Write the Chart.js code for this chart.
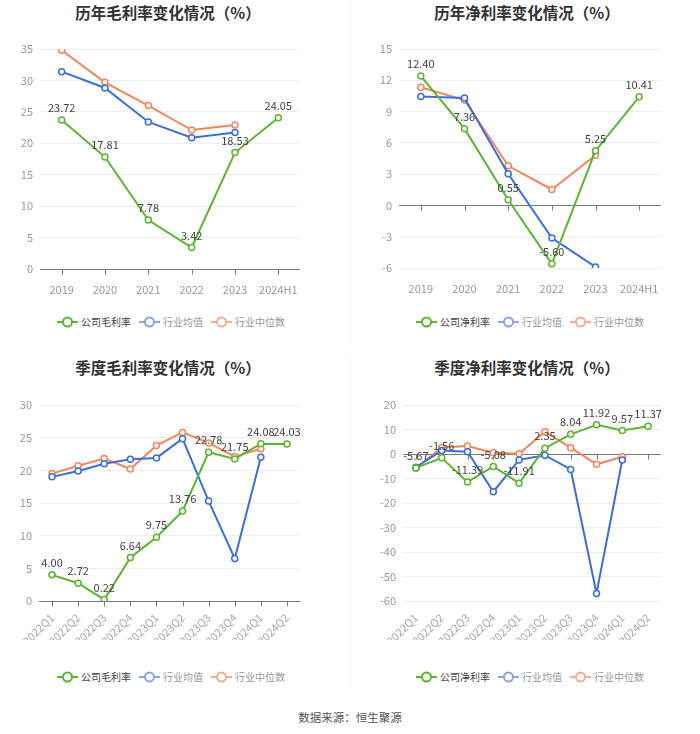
<!DOCTYPE html>
<html>
<head>
<meta charset="utf-8">
<script src="https://cdn.jsdelivr.net/npm/chart.js@4.4.0/dist/chart.umd.min.js"></script>
<style>
  body { margin: 0; background: #fff; font-family: "Noto Sans CJK SC", "Noto Sans", sans-serif; }
  #page { position: relative; width: 700px; height: 734px; overflow: hidden; }
  .title { position: absolute; width: 350px; text-align: center; font-size: 15.5px; font-weight: bold; color: #333; line-height: 20px; }
  .box { position: absolute; }
  .legend { position: absolute; width: 350px; display: flex; justify-content: center; align-items: center; font-size: 10px; line-height: 14px; }
  .legend .item { display: flex; align-items: center; margin: 0 4px; }
  .legend svg { margin-right: 3px; }
  .divider { position: absolute; left: 350px; width: 1px; background: #f2f2f2; }
  #source { position: absolute; top: 709px; width: 700px; text-align: center; font-size: 11.5px; color: #555; }
</style>
</head>
<body>
<div id="page">
  <div class="divider" style="top:0;height:340px"></div>
  <div class="divider" style="top:355px;height:335px"></div>

  <div class="title" style="left:-7px;top:2px">历年毛利率变化情况（%）</div>
  <div class="title" style="left:352px;top:2px">历年净利率变化情况（%）</div>
  <div class="title" style="left:-7px;top:357px">季度毛利率变化情况（%）</div>
  <div class="title" style="left:352px;top:357px">季度净利率变化情况（%）</div>

  <div class="box" style="left:0;top:30px"><canvas id="c1" width="350" height="270"></canvas></div>
  <div class="box" style="left:350px;top:30px"><canvas id="c2" width="350" height="270"></canvas></div>
  <div class="box" style="left:0;top:380px"><canvas id="c3" width="350" height="260"></canvas></div>
  <div class="box" style="left:350px;top:380px"><canvas id="c4" width="350" height="260"></canvas></div>

  <div class="legend" id="lg1" style="left:-4px;top:315px"></div>
  <div class="legend" id="lg2" style="left:355px;top:315px"></div>
  <div class="legend" id="lg3" style="left:-4px;top:670px"></div>
  <div class="legend" id="lg4" style="left:355px;top:670px"></div>

  <div id="source">数据来源：恒生聚源</div>
</div>

<script>
// categories
const yearLabels = ['2019', '2020', '2021', '2022', '2023', '2024H1'];
const quarterLabels = ['2022Q1', '2022Q2', '2022Q3', '2022Q4', '2023Q1', '2023Q2', '2023Q3', '2023Q4', '2024Q1', '2024Q2'];

// series names
const grossNames = ['公司毛利率', '行业均值', '行业中位数'];
const netNames = ['公司净利率', '行业均值', '行业中位数'];

// yearly gross margin (%)
const yearGrossCompany = [23.72, 17.81, 7.78, 3.42, 18.53, 24.05];
const yearGrossMean = [31.4, 28.8, 23.4, 20.9, 21.7, null];
const yearGrossMedian = [34.8, 29.7, 26.0, 22.1, 22.9, null];

// yearly net margin (%)
const yearNetCompany = [12.40, 7.36, 0.55, -5.60, 5.25, 10.41];
const yearNetMean = [10.44, 10.3, 3.03, -3.13, -5.9, null];
const yearNetMedian = [11.33, 10.1, 3.8, 1.53, 4.82, null];

// quarterly gross margin (%)
const qGrossCompany = [4.00, 2.72, 0.22, 6.64, 9.75, 13.76, 22.78, 21.75, 24.08, 24.03];
const qGrossMean = [19.0, 19.9, 21.0, 21.7, 21.9, 24.85, 15.3, 6.5, 22.0, null];
const qGrossMedian = [19.5, 20.7, 21.8, 20.2, 23.8, 25.8, 24.2, 22.1, 23.3, null];

// quarterly net margin (%)
const qNetCompany = [-5.67, -1.56, -11.39, -5.08, -11.91, 2.35, 8.04, 11.92, 9.57, 11.37];
const qNetMean = [-5.4, 1.4, 0.95, -15.4, -2.4, -0.5, -6.3, -56.9, -2.45, null];
const qNetMedian = [-5.85, 2.7, 3.3, 0.5, 0.1, 9.1, 2.6, -4.2, -1.1, null];

// y axis ranges: [min, max, step]
const yearGrossRange = [0, 35, 5];
const yearNetRange = [-6, 15, 3];
const qGrossRange = [0, 30, 5];
const qNetRange = [-60, 20, 10];

const colors = ['#5cb531', '#3b6ee0', '#f5855a'];
const legendColors = ['#5cb531', '#8aa4ea', '#f3ae94'];
const legendText = ['#444', '#999', '#999'];

Chart.defaults.font.family = '"Noto Sans CJK SC", "Noto Sans", sans-serif';
Chart.defaults.animation = false;

// axis line at value 0 with small tick marks at each category
const zeroAxis = {
  id: 'zeroAxis',
  beforeDatasetsDraw(chart) {
    const { ctx, chartArea, scales } = chart;
    const y = Math.round(scales.y.getPixelForValue(0)) + 0.5;
    ctx.save();
    ctx.strokeStyle = '#7a7a7a';
    ctx.lineWidth = 1;
    ctx.beginPath();
    ctx.moveTo(chartArea.left, y);
    ctx.lineTo(chartArea.right, y);
    scales.x.ticks.forEach((t, i) => {
      const x = Math.round(scales.x.getPixelForTick(i)) + 0.5;
      ctx.moveTo(x, y);
      ctx.lineTo(x, y + 5);
    });
    ctx.stroke();
    ctx.restore();
  }
};

// value labels above the company series
const valueLabels = {
  id: 'valueLabels',
  afterDatasetsDraw(chart) {
    const { ctx } = chart;
    const ds = chart.data.datasets[0];
    const meta = chart.getDatasetMeta(0);
    ctx.save();
    ctx.font = '11px "Noto Sans CJK SC", "Noto Sans", sans-serif';
    ctx.fillStyle = '#444';
    ctx.textAlign = 'center';
    ctx.textBaseline = 'middle';
    meta.data.forEach((pt, i) => {
      const v = ds.data[i];
      if (v === null) return;
      ctx.fillText(v.toFixed(2), pt.x, pt.y - 12);
    });
    ctx.restore();
  }
};

function makeChart(id, labels, names, values, range, layout) {
  const datasets = values.map((data, i) => ({
    label: names[i],
    data: data,
    borderColor: colors[i],
    backgroundColor: '#fff',
    borderWidth: 2,
    pointRadius: 3,
    pointBorderWidth: 1.5,
    pointBackgroundColor: '#fff',
    pointBorderColor: colors[i],
    tension: 0,
    spanGaps: false
  }));
  new Chart(document.getElementById(id), {
    type: 'line',
    data: { labels: labels, datasets: datasets },
    plugins: [zeroAxis, valueLabels],
    options: {
      responsive: false,
      events: [],
      layout: { padding: { top: layout.top, right: layout.right, left: 0, bottom: 0 } },
      plugins: { legend: { display: false }, tooltip: { enabled: false } },
      scales: {
        x: {
          offset: true,
          grid: { display: false },
          border: { display: false },
          ticks: {
            color: layout.rotate ? '#aaa' : '#999',
            font: { size: 11 },
            padding: layout.rotate ? 2 : 6,
            autoSkip: false,
            minRotation: layout.rotate ? 45 : 0,
            maxRotation: layout.rotate ? 45 : 0
          },
          afterFit(scale) { scale.height = layout.xHeight; }
        },
        y: {
          min: range[0],
          max: range[1],
          grid: { color: '#eceef2', drawTicks: false },
          border: { display: false },
          ticks: { stepSize: range[2], color: '#999', font: { size: 11 }, padding: 7 },
          afterFit(scale) { scale.width = layout.yWidth; }
        }
      }
    }
  });
}

function makeLegend(id, names) {
  const el = document.getElementById(id);
  names.forEach((name, i) => {
    const c = legendColors[i];
    el.insertAdjacentHTML('beforeend',
      '<span class="item"><svg width="21" height="12"><line x1="0" y1="6" x2="21" y2="6" stroke="' + c +
      '" stroke-width="2"/><circle cx="10.5" cy="6" r="4.5" fill="#fff" stroke="' + c +
      '" stroke-width="2"/></svg><span style="color:' + legendText[i] + '">' + name + '</span></span>');
  });
}

makeChart('c1', yearLabels, grossNames, [yearGrossCompany, yearGrossMean, yearGrossMedian], yearGrossRange,
  { top: 19, right: 50, yWidth: 40, xHeight: 31, rotate: false });
makeChart('c2', yearLabels, netNames, [yearNetCompany, yearNetMean, yearNetMedian], yearNetRange,
  { top: 19, right: 39, yWidth: 49, xHeight: 32, rotate: false });
makeChart('c3', quarterLabels, grossNames, [qGrossCompany, qGrossMean, qGrossMedian], qGrossRange,
  { top: 25, right: 50, yWidth: 39, xHeight: 39, rotate: true });
makeChart('c4', quarterLabels, netNames, [qNetCompany, qNetMean, qNetMedian], qNetRange,
  { top: 25, right: 39, yWidth: 53, xHeight: 39, rotate: true });

makeLegend('lg1', grossNames);
makeLegend('lg2', netNames);
makeLegend('lg3', grossNames);
makeLegend('lg4', netNames);
</script>
</body>
</html>
